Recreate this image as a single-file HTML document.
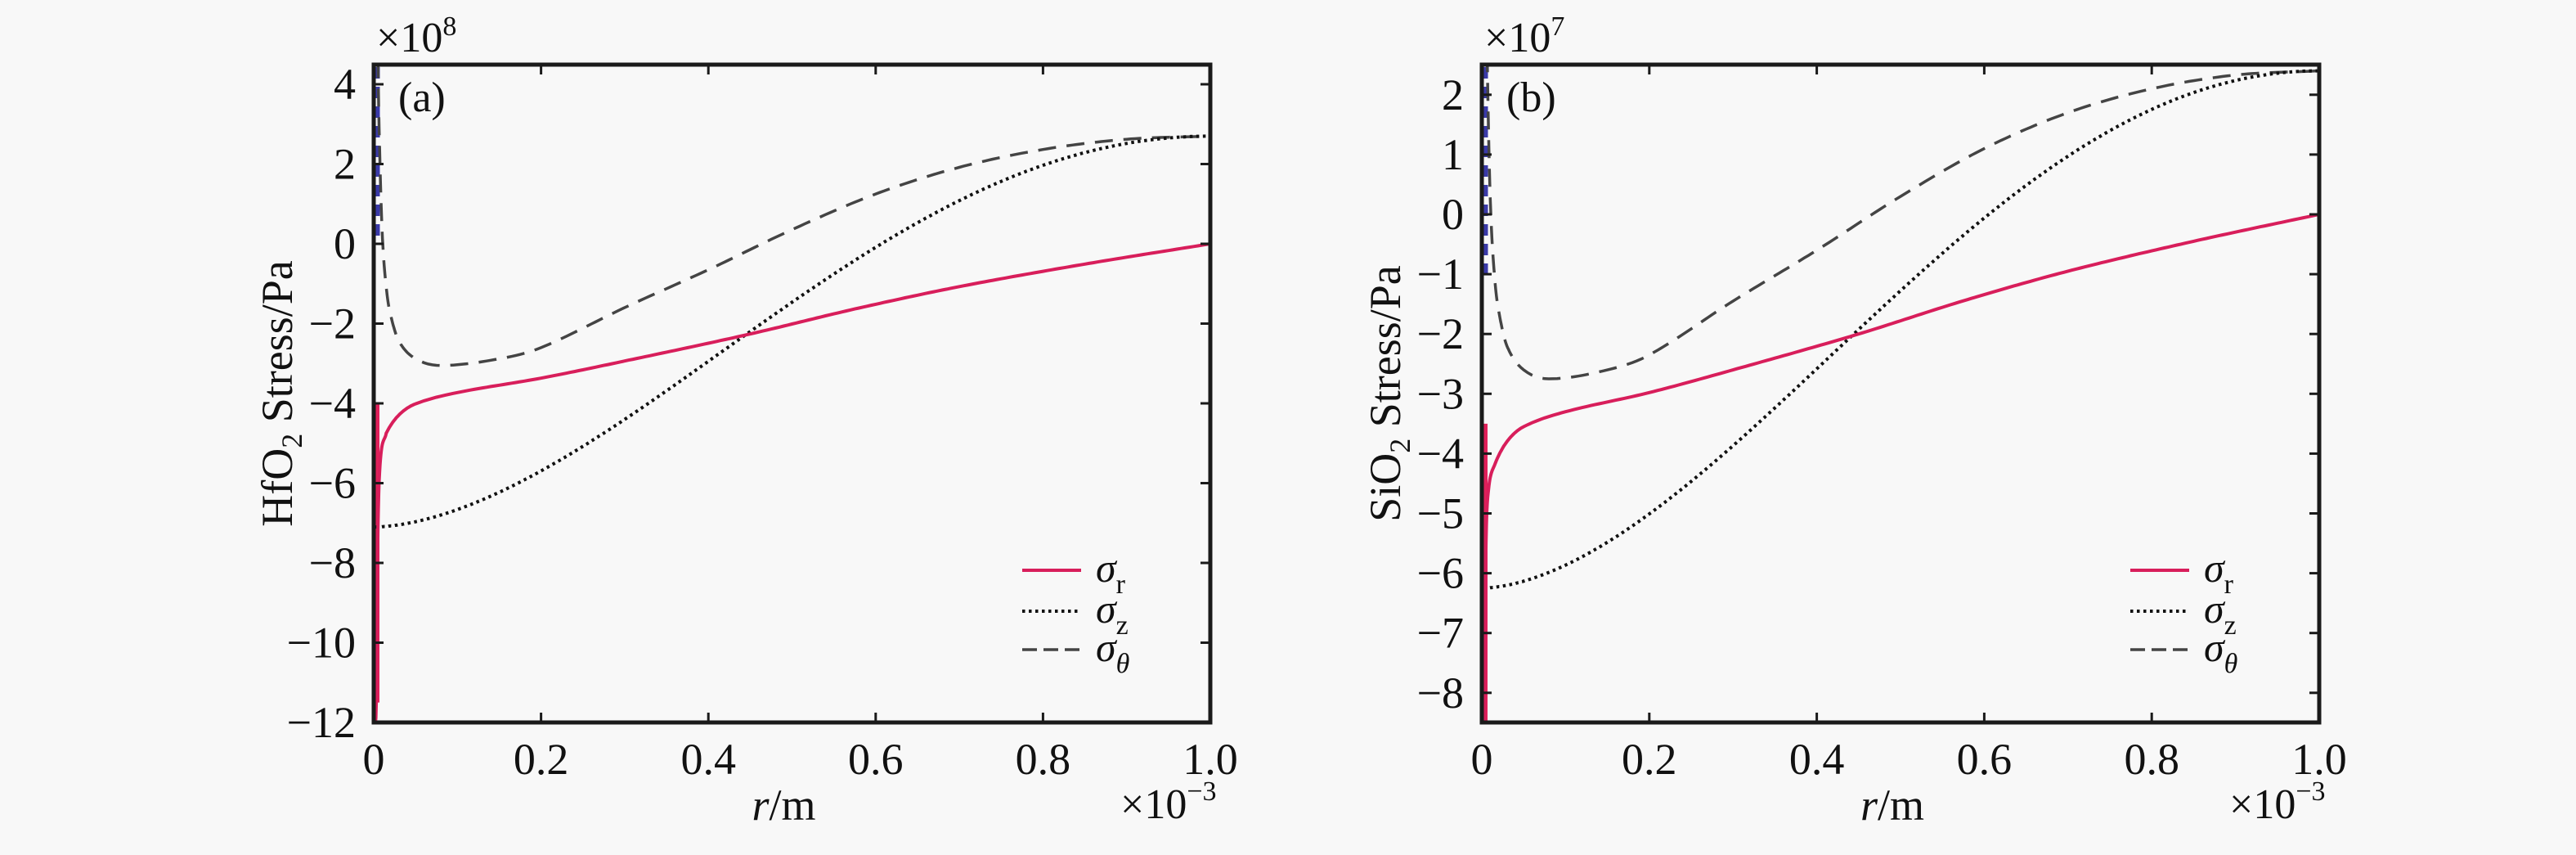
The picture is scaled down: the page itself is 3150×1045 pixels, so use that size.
<!DOCTYPE html>
<html><head><meta charset="utf-8">
<style>
html,body{margin:0;padding:0;background:#f8f8f8;}
svg{display:block;}
text{font-family:"Liberation Serif","DejaVu Serif",serif;fill:#111;}
</style></head>
<body>
<svg id="s" width="3150" height="1045" viewBox="0 0 3150 1045" xmlns="http://www.w3.org/2000/svg">
<rect width="3150" height="1045" fill="#f8f8f8"/>
<g id="g"></g>
</svg>
<script>
var NS="http://www.w3.org/2000/svg",G=document.getElementById("g");
var TOP=79,BOT=883;
function el(t,a,txt){var e=document.createElementNS(NS,t);for(var k in a)e.setAttribute(k,a[k]);if(txt!==undefined)e.textContent=txt;G.appendChild(e);return e;}
function interp(pts,r){if(r<=pts[0][0])return pts[0][1];for(var i=1;i<pts.length;i++){if(r<=pts[i][0]){var a=pts[i-1],b=pts[i];
 var p0=pts[Math.max(i-2,0)],p3=pts[Math.min(i+1,pts.length-1)];var t=(r-a[0])/(b[0]-a[0]);
 var m1=(b[1]-p0[1])/(b[0]-p0[0])*(b[0]-a[0]),m2=(p3[1]-a[1])/(p3[0]-a[0])*(b[0]-a[0]);
 var t2=t*t,t3=t2*t;return (2*t3-3*t2+1)*a[1]+(t3-2*t2+t)*m1+(-2*t3+3*t2)*b[1]+(t3-t2)*m2;}}return pts[pts.length-1][1];}
function fz(r){var q=Math.pow(r,0.868);return (1-Math.cos(Math.PI*q))/2;}
var rs=[];for(var r=0.002;r<0.05;r+=0.0005)rs.push(r);for(var r=0.05;r<=1.0001;r+=0.005)rs.push(Math.min(r,1));
var thR=[[0.004,6],[0.006,3],[0.01,0.3],[0.015,-1.0],[0.02,-1.6],[0.03,-2.2],[0.05,-2.6],[0.08,-2.75],[0.15,-2.6],[0.2,-2.35],[0.3,-1.45],[0.4,-0.6],[0.5,0.3],[0.6,1.1],[0.7,1.7],[0.8,2.1],[0.9,2.33],[1.0,2.4]];
var srR=[[0.002,-8.5],[0.003,-8.3],[0.005,-5.5],[0.008,-4.6],[0.015,-4.2],[0.03,-3.8],[0.05,-3.55],[0.1,-3.3],[0.2,-2.98],[0.3,-2.6],[0.45,-2.0],[0.574,-1.45],[0.7,-0.95],[0.85,-0.45],[1.0,0]];
function panel(o){
 var X=function(r){return o.x0+(o.x1-o.x0)*r;},Y=function(v){return o.y0-o.k*v;};
 var clipId="c"+o.id;
 var cp=el("clipPath",{id:clipId});var rr=document.createElementNS(NS,"rect");rr.setAttribute("x",o.x0);rr.setAttribute("y",TOP);rr.setAttribute("width",o.x1-o.x0);rr.setAttribute("height",BOT-TOP);cp.appendChild(rr);
 function path(f,attrs){var d="";rs.forEach(function(r,i){d+=(i?"L":"M")+X(r).toFixed(1)+" "+Y(f(r)).toFixed(1);});attrs.d=d;attrs.fill="none";attrs["clip-path"]="url(#"+clipId+")";el("path",attrs);}
 el("line",{x1:o.x0+4,y1:Y(o.redTop),x2:o.x0+4,y2:Y(o.redBot),stroke:"#e0205a","stroke-width":6});
 el("line",{x1:o.x0+5,y1:TOP+3,x2:o.x0+5,y2:Y(o.blueBot),stroke:"#3a3aa8","stroke-width":5,"stroke-dasharray":"14 10"});
 path(function(r){return o.th(r);},{stroke:"#444","stroke-width":3.5,"stroke-dasharray":"22 13"});
 path(function(r){return o.z0+o.zr*fz(r);},{stroke:"#111","stroke-width":4,"stroke-dasharray":"3.5 4.5"});
 path(function(r){return o.sr(r);},{stroke:"#d81e5b","stroke-width":4});
 el("rect",{x:o.x0,y:TOP,width:o.x1-o.x0,height:BOT-TOP,fill:"none",stroke:"#1a1a1a","stroke-width":5});
 var xl=["0","0.2","0.4","0.6","0.8","1.0"];
 for(var i=0;i<=5;i++){var x=X(i*0.2);
  if(i>0&&i<5){el("line",{x1:x,y1:BOT,x2:x,y2:BOT-12,stroke:"#1a1a1a","stroke-width":3});el("line",{x1:x,y1:TOP,x2:x,y2:TOP+12,stroke:"#1a1a1a","stroke-width":3});}
  el("text",{x:x,y:946,"font-size":54,"text-anchor":"middle"},xl[i]);}
 o.yt.forEach(function(v){var y=Y(v);
  el("line",{x1:o.x0,y1:y,x2:o.x0+12,y2:y,stroke:"#1a1a1a","stroke-width":3});
  el("line",{x1:o.x1,y1:y,x2:o.x1-12,y2:y,stroke:"#1a1a1a","stroke-width":3});
  el("text",{x:o.x0-22,y:y+18,"font-size":54,"text-anchor":"end"},(v<0?"\u2212":"")+Math.abs(v));});
 var t=el("text",{x:o.x0+3,y:63,"font-size":52});t.innerHTML='\u00d710<tspan dy="-20" font-size="34">'+o.exp+'</tspan>';
 var t2=el("text",{x:o.x1-110,y:1000,"font-size":52});t2.innerHTML='\u00d710<tspan dy="-22" font-size="34">\u22123</tspan>';
 el("text",{x:o.x0+30,y:136,"font-size":52},o.lab);
 var t3=el("text",{x:(o.x0+o.x1)/2-10,y:1002,"font-size":54,"text-anchor":"middle"});t3.innerHTML='<tspan font-style="italic">r</tspan>/m';
 var yc=481,xc=o.x0-100;
 var t4=el("text",{x:xc,y:yc,"font-size":54,"text-anchor":"middle",transform:"rotate(-90 "+xc+" "+yc+")"});
 t4.innerHTML=o.mat+'O<tspan dy="12" font-size="36">2</tspan><tspan dy="-12"> Stress/Pa</tspan>';
 var lx=o.x0+793,ly=[697,747,794];
 el("line",{x1:lx,y1:ly[0],x2:lx+72,y2:ly[0],stroke:"#d81e5b","stroke-width":4});
 el("line",{x1:lx,y1:ly[1],x2:lx+72,y2:ly[1],stroke:"#111","stroke-width":4,"stroke-dasharray":"3.5 4.5"});
 el("line",{x1:lx,y1:ly[2],x2:lx+72,y2:ly[2],stroke:"#444","stroke-width":3.5,"stroke-dasharray":"18 8"});
 var subs=["r","z","\u03b8"];
 for(var j=0;j<3;j++){var tt=el("text",{x:lx+90,y:ly[j]+14,"font-size":50});
  tt.innerHTML='<tspan font-style="italic">\u03c3</tspan><tspan dy="14" font-size="34"'+(j==2?' font-style="italic"':'')+'>'+subs[j]+'</tspan>';}
}
panel({id:"a",x0:457,x1:1480,y0:298,k:48.75,exp:"8",lab:"(a)",mat:"Hf",yt:[4,2,0,-2,-4,-6,-8,-10,-12],
 z0:-7.1,zr:9.8,redTop:-4,redBot:-11.5,blueBot:0,
 th:function(r){var v=interp(thR,r);return -3.05+(v+2.75)*(5.75/5.15);},
 sr:function(r){if(r<0.015)return interp([[0.002,-12],[0.003,-11.5],[0.005,-7.2],[0.008,-5.4],[0.015,-4.75]],r);return interp(srR,r)*1.13;}});
panel({id:"b",x0:1812,x1:2836,y0:262,k:73.1,exp:"7",lab:"(b)",mat:"Si",yt:[2,1,0,-1,-2,-3,-4,-5,-6,-7,-8],
 z0:-6.25,zr:8.65,redTop:-3.5,redBot:-8.5,blueBot:-1,
 th:function(r){return interp(thR,r);},
 sr:function(r){return interp(srR,r);}});
</script>
</body></html>
